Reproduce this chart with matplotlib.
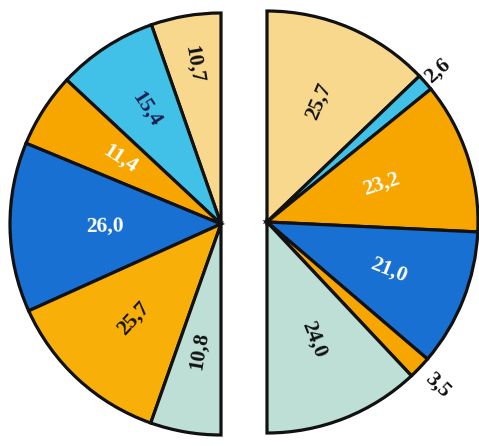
"""
Two half pies (left / right) with rotated value labels.
"""

import numpy as np
import matplotlib
matplotlib.use("Agg")
import matplotlib.pyplot as plt

# ── Data ───────────────────────────────────────────────────────────────────────
left_values = [10.7, 15.4, 11.4, 26.0, 25.7, 10.8]     # counter-clockwise from top
right_values = [25.7, 2.6, 23.2, 21.0, 3.5, 24.0]      # clockwise from top

left_labels = ["10,7", "15,4", "11,4", "26,0", "25,7", "10,8"]
right_labels = ["25,7", "2,6", "23,2", "21,0", "3,5", "24,0"]

# ── Style ──────────────────────────────────────────────────────────────────────
BEIGE = "#F8D88C"
LBLUE = "#42C1E8"
ORANGE = "#F7A600"
BLUE = "#1870D3"
GREEN = "#BDDFD5"

left_colors = [BEIGE, LBLUE, ORANGE, BLUE, "#F8AF08", GREEN]
right_colors = [BEIGE, LBLUE, ORANGE, BLUE, ORANGE, GREEN]
left_text = ["#111111", "#1b2050", "white", "white", "#111111", "#111111"]
right_text = ["#111111", "#111111", "white", "white", "#111111", "#111111"]
left_dist = [0.77, 0.65, 0.57, 0.55, 0.61, 0.61]
right_dist = [0.62, 1.08, 0.57, 0.62, 1.12, 0.60]

R = 211
LEFT_C = (221, 222)
RIGHT_C = (267, 224)

fig = plt.figure(figsize=(4.79, 4.46), dpi=100)
fig.patch.set_facecolor("white")
ax = fig.add_axes([0, 0, 1, 1])


def half_pie(values, colors, labels, tcolors, dists, center, counterclock):
    # a hidden wedge of the same total makes the visible part a half circle
    vals = list(values) + [sum(values)]
    cols = list(colors) + ["none"]
    wedges, _ = ax.pie(vals, colors=cols, startangle=90,
                       counterclock=counterclock, center=center, radius=R,
                       frame=True,
                       wedgeprops=dict(edgecolor="#111111", linewidth=2.3))
    wedges[-1].set_visible(False)

    total = 2 * sum(values)
    cum = np.cumsum([0] + list(values))
    sign = 1 if counterclock else -1
    for i, lab in enumerate(labels):
        mid = 90 + sign * 360 * (cum[i] + values[i] / 2) / total
        th = np.deg2rad(mid)
        x = center[0] + dists[i] * R * np.cos(th)
        y = center[1] + dists[i] * R * np.sin(th)
        rot = mid
        while rot > 90:
            rot -= 180
        while rot < -90:
            rot += 180
        ax.text(x, y, lab, rotation=rot, rotation_mode="anchor",
                ha="center", va="center", fontsize=15.5, fontweight="bold",
                family="Liberation Serif", color=tcolors[i])


half_pie(left_values, left_colors, left_labels, left_text, left_dist,
         LEFT_C, True)
half_pie(right_values, right_colors, right_labels, right_text, right_dist,
         RIGHT_C, False)

ax.set_xlim(0, 479)
ax.set_ylim(0, 446)
ax.set_aspect("equal")
ax.axis("off")

fig.savefig("out.png", dpi=100, facecolor="white")
